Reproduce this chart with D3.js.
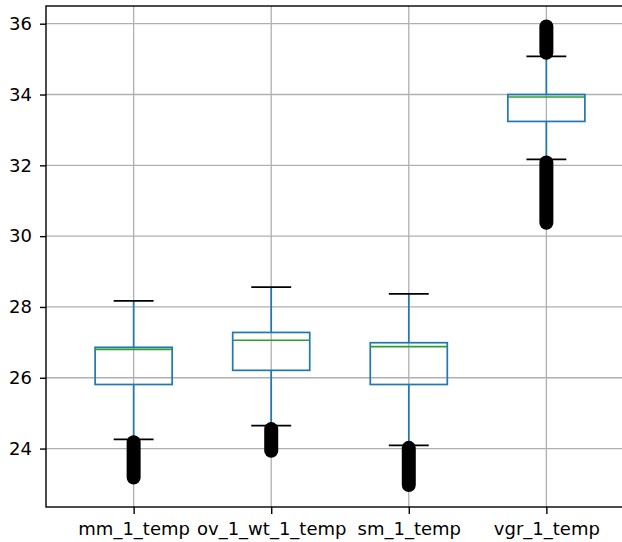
<!DOCTYPE html>
<html>
<head>
<meta charset="utf-8">
<script src="https://cdn.jsdelivr.net/npm/d3@7"></script>
<style>
  body { margin: 0; background: #fff; }
  svg { display: block; font-family: "DejaVu Sans", sans-serif; }
</style>
</head>
<body>
<svg id="chart" width="622" height="542"></svg>
<script>
// values
const columns = ['mm_1_temp', 'ov_1_wt_1_temp', 'sm_1_temp', 'vgr_1_temp']
const q1 = [25.81, 26.21, 25.81, 33.24]
const medians = [26.80, 27.06, 26.88, 33.93]
const q3 = [26.86, 27.28, 26.99, 34.00]
const whiskerLow = [24.26, 24.65, 24.09, 32.17]
const whiskerHigh = [28.17, 28.56, 28.37, 35.08]
// outliers are so dense they merge into a solid band: [lowest, highest]
const fliersLow = [[23.18, 24.18], [23.94, 24.55], [22.97, 24.02], [30.38, 32.08]]
const fliersHigh = [null, null, null, [35.18, 35.92]]
const yTicks = [24, 26, 28, 30, 32, 34, 36]

const margin = { left: 46, top: 6, right: 634, bottom: 507 }

const data = columns.map((c, i) => ({
  name: c,
  q1: q1[i],
  median: medians[i],
  q3: q3[i],
  lo: whiskerLow[i],
  hi: whiskerHigh[i],
  fliers: [fliersLow[i], fliersHigh[i]].filter(f => f)
}))

const svg = d3.select('#chart')

const x = d3.scalePoint()
  .domain(columns)
  .range([margin.left, margin.right])
  .padding(0.637)

const y = d3.scaleLinear()
  .domain([22.35, 36.5])
  .range([margin.bottom, margin.top])

const step = x.step()
const boxW = step * 0.56
const capW = step * 0.29
const lw = 1.7

// grid
const grid = svg.append('g')
grid.selectAll('.hgrid')
  .data(yTicks)
  .enter()
  .append('line')
  .attr('x1', margin.left)
  .attr('x2', margin.right)
  .attr('y1', d => y(d))
  .attr('y2', d => y(d))
  .attr('stroke', '#b0b0b0')
  .attr('stroke-width', 1.3)
grid.selectAll('.vgrid')
  .data(columns)
  .enter()
  .append('line')
  .attr('x1', d => x(d))
  .attr('x2', d => x(d))
  .attr('y1', margin.top)
  .attr('y2', margin.bottom)
  .attr('stroke', '#b0b0b0')
  .attr('stroke-width', 1.3)

const boxes = svg.append('g')
  .selectAll('g')
  .data(data)
  .enter()
  .append('g')

// whiskers
boxes.append('line')
  .attr('x1', d => x(d.name))
  .attr('x2', d => x(d.name))
  .attr('y1', d => y(d.lo))
  .attr('y2', d => y(d.q1))
  .attr('stroke', '#1f77b4')
  .attr('stroke-width', lw)
boxes.append('line')
  .attr('x1', d => x(d.name))
  .attr('x2', d => x(d.name))
  .attr('y1', d => y(d.q3))
  .attr('y2', d => y(d.hi))
  .attr('stroke', '#1f77b4')
  .attr('stroke-width', lw)

// caps
boxes.selectAll('.cap')
  .data(d => [{ name: d.name, v: d.lo }, { name: d.name, v: d.hi }])
  .enter()
  .append('line')
  .attr('x1', d => x(d.name) - capW / 2)
  .attr('x2', d => x(d.name) + capW / 2)
  .attr('y1', d => y(d.v))
  .attr('y2', d => y(d.v))
  .attr('stroke', '#000')
  .attr('stroke-width', lw)

// boxes
boxes.append('rect')
  .attr('x', d => x(d.name) - boxW / 2)
  .attr('width', boxW)
  .attr('y', d => y(d.q3))
  .attr('height', d => y(d.q1) - y(d.q3))
  .attr('fill', 'none')
  .attr('stroke', '#1f77b4')
  .attr('stroke-width', lw)

// medians
boxes.append('line')
  .attr('x1', d => x(d.name) - boxW / 2)
  .attr('x2', d => x(d.name) + boxW / 2)
  .attr('y1', d => y(d.median))
  .attr('y2', d => y(d.median))
  .attr('stroke', '#2ca02c')
  .attr('stroke-width', lw)

// fliers
boxes.selectAll('.flier')
  .data(d => d.fliers.map(f => ({ name: d.name, f })))
  .enter()
  .append('line')
  .attr('x1', d => x(d.name))
  .attr('x2', d => x(d.name))
  .attr('y1', d => y(d.f[0]))
  .attr('y2', d => y(d.f[1]))
  .attr('stroke', '#000')
  .attr('stroke-width', 14)
  .attr('stroke-linecap', 'round')

// spines
svg.append('rect')
  .attr('x', margin.left)
  .attr('y', margin.top)
  .attr('width', margin.right - margin.left)
  .attr('height', margin.bottom - margin.top)
  .attr('fill', 'none')
  .attr('stroke', '#000')
  .attr('stroke-width', 1.4)

// axes
const yAxis = svg.append('g')
  .attr('transform', `translate(${margin.left},0)`)
  .call(d3.axisLeft(y).tickValues(yTicks).tickSize(6).tickPadding(8).tickFormat(d3.format('d')))
yAxis.select('.domain').remove()

const xAxis = svg.append('g')
  .attr('transform', `translate(0,${margin.bottom})`)
  .call(d3.axisBottom(x).tickSize(7).tickPadding(8))
xAxis.select('.domain').remove()

svg.selectAll('.tick text')
  .attr('font-family', '"DejaVu Sans", sans-serif')
  .attr('font-size', 18)
  .attr('fill', '#000')
svg.selectAll('.tick line')
  .attr('stroke', '#000')
  .attr('stroke-width', 1.4)
</script>
</body>
</html>
